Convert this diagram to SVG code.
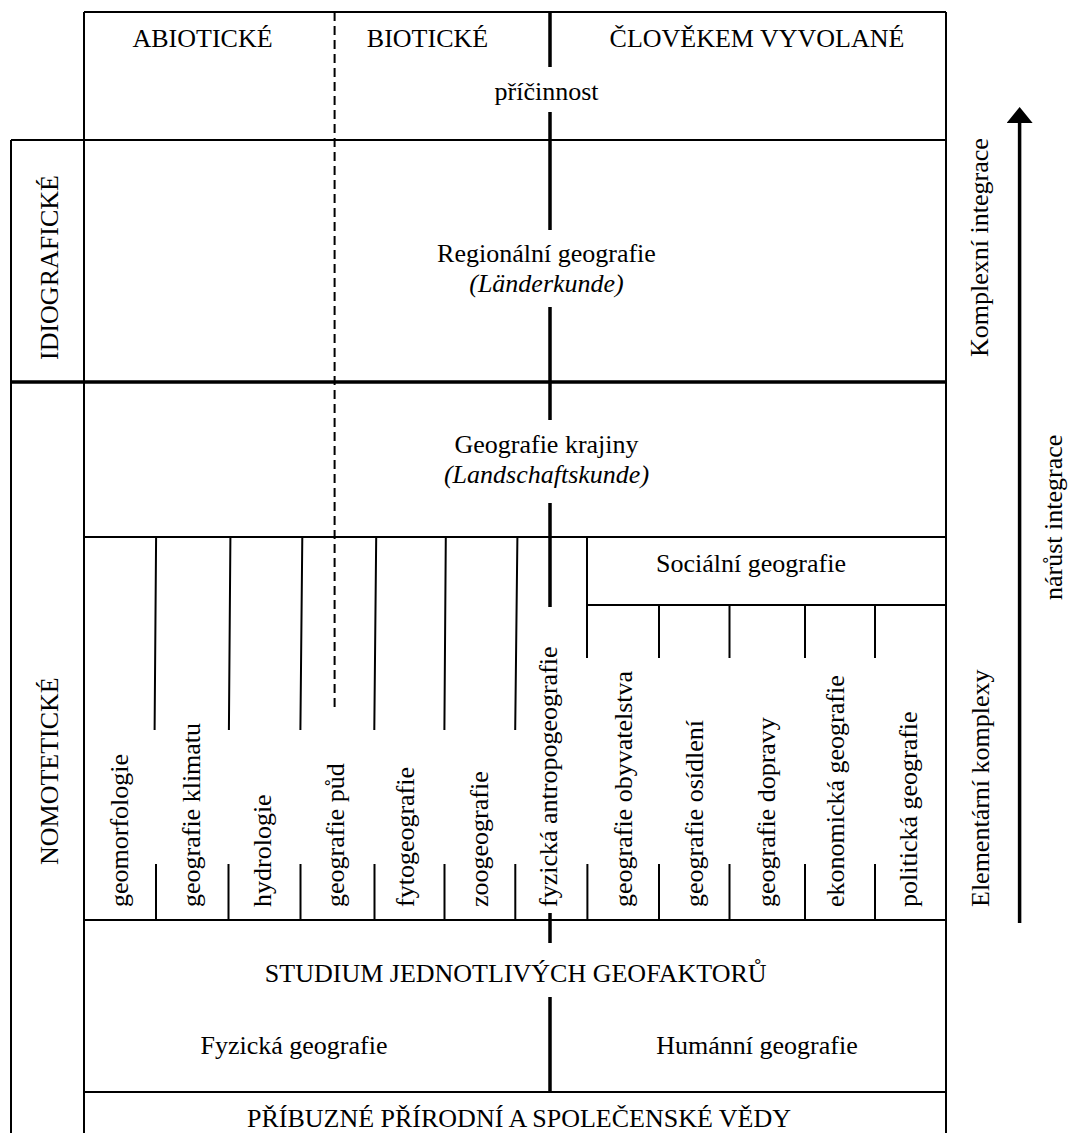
<svg xmlns="http://www.w3.org/2000/svg" width="1069" height="1133" viewBox="0 0 1069 1133">
<style>
text{font-family:"Liberation Serif","Times New Roman",serif;font-size:26px;fill:#000}
.c{text-anchor:middle}
.i{font-style:italic}
.ln{stroke:#000;stroke-width:2;fill:none}
.th{stroke:#000;stroke-width:3.5;fill:none}
.ds{stroke:#000;stroke-width:2;stroke-dasharray:9 5;fill:none}
</style>
<defs>
<marker id="ah" viewBox="0 0 16 26" refX="11" refY="13" markerWidth="16" markerHeight="26" markerUnits="userSpaceOnUse" orient="auto">
<path d="M0,0L16,13L0,26z" fill="#000"/>
</marker>
</defs>
<rect width="1069" height="1133" fill="#fff"/>

<g id="grid">
<path class="ln" d="M84,12H946M84,12V1133M946,12V1133M11,140V1133M11,140H946M84,537H946M587,605H946M587,537V658M84,920H946M84,1092H946"/>
<path class="th" d="M11,382H946"/>
<path class="ds" d="M334.6,12V707"/>
<path class="ln" d="M156.1,537L154.6,730M230.4,537L228.9,730M302.3,537L300.4,730M376.2,537L374.3,730M445.8,537L444.4,730M517.4,537L515.2,730"/>
<path class="ln" d="M659,605V658M729.5,605V658M805,605V658M875,605V658"/>
<path class="ln" d="M156,864V920M228.5,864V920M300.5,864V920M374.5,864V920M444.5,864V920M515.3,864V920M587.4,864V920M659,864V920M729.5,864V920M805,864V920M875,864V920"/>
</g>

<g id="connectors">
<path class="th" d="M550,12V67M550,112V230M550,307V420M550,503V607M550,913V943M550,997V1092"/>
<path class="th" d="M1019.6,923V112" marker-end="url(#ah)"/>
</g>

<g id="header-abioticke"><text class="c" x="202.5" y="47">ABIOTICKÉ</text></g>
<g id="header-bioticke"><text class="c" x="427.5" y="47">BIOTICKÉ</text></g>
<g id="header-clovekem"><text class="c" x="757" y="47">ČLOVĚKEM VYVOLANÉ</text></g>
<g id="pricinnost"><text class="c" x="546.5" y="100">příčinnost</text></g>

<g id="idiograficke"><text transform="translate(58,360) rotate(-90)">IDIOGRAFICKÉ</text></g>
<g id="nomoteticke"><text transform="translate(58,865) rotate(-90)">NOMOTETICKÉ</text></g>

<g id="regionalni">
<text class="c" x="546.5" y="261.5">Regionální geografie</text>
<text class="c i" x="546.5" y="291.5">(Länderkunde)</text>
</g>
<g id="krajina">
<text class="c" x="546.5" y="453">Geografie krajiny</text>
<text class="c i" x="546.5" y="483">(Landschaftskunde)</text>
</g>
<g id="socialni"><text class="c" x="751" y="572">Sociální geografie</text></g>

<g id="col-geomorfologie"><text transform="translate(128,907) rotate(-90)">geomorfologie</text></g>
<g id="col-klima"><text transform="translate(199.5,907) rotate(-90)">geografie klimatu</text></g>
<g id="col-hydrologie"><text transform="translate(271,907) rotate(-90)">hydrologie</text></g>
<g id="col-pudy"><text transform="translate(344,907) rotate(-90)">geografie půd</text></g>
<g id="col-fytogeografie"><text transform="translate(413.5,907) rotate(-90)">fytogeografie</text></g>
<g id="col-zoogeografie"><text transform="translate(488,907) rotate(-90)">zoogeografie</text></g>
<g id="col-antropogeografie"><text transform="translate(556.5,907) rotate(-90)">fyzická antropogeografie</text></g>
<g id="col-obyvatelstvo"><text transform="translate(632,907) rotate(-90)">geografie obyvatelstva</text></g>
<g id="col-osidleni"><text transform="translate(703,907) rotate(-90)">geografie osídlení</text></g>
<g id="col-doprava"><text transform="translate(775,907) rotate(-90)">geografie dopravy</text></g>
<g id="col-ekonomicka"><text transform="translate(844,907) rotate(-90)">ekonomická geografie</text></g>
<g id="col-politicka"><text transform="translate(917,907) rotate(-90)">politická geografie</text></g>

<g id="studium"><text class="c" x="515.7" y="982">STUDIUM JEDNOTLIVÝCH GEOFAKTORŮ</text></g>
<g id="fyzicka"><text class="c" x="294" y="1054">Fyzická geografie</text></g>
<g id="humanni"><text class="c" x="757" y="1054">Humánní geografie</text></g>
<g id="pribuzne"><text class="c" x="519" y="1127">PŘÍBUZNÉ PŘÍRODNÍ A SPOLEČENSKÉ VĚDY</text></g>

<g id="komplexni"><text transform="translate(988,357) rotate(-90)">Komplexní integrace</text></g>
<g id="elementarni"><text transform="translate(989,907) rotate(-90)">Elementární komplexy</text></g>
<g id="narust"><text transform="translate(1062,600) rotate(-90)">nárůst integrace</text></g>
</svg>
